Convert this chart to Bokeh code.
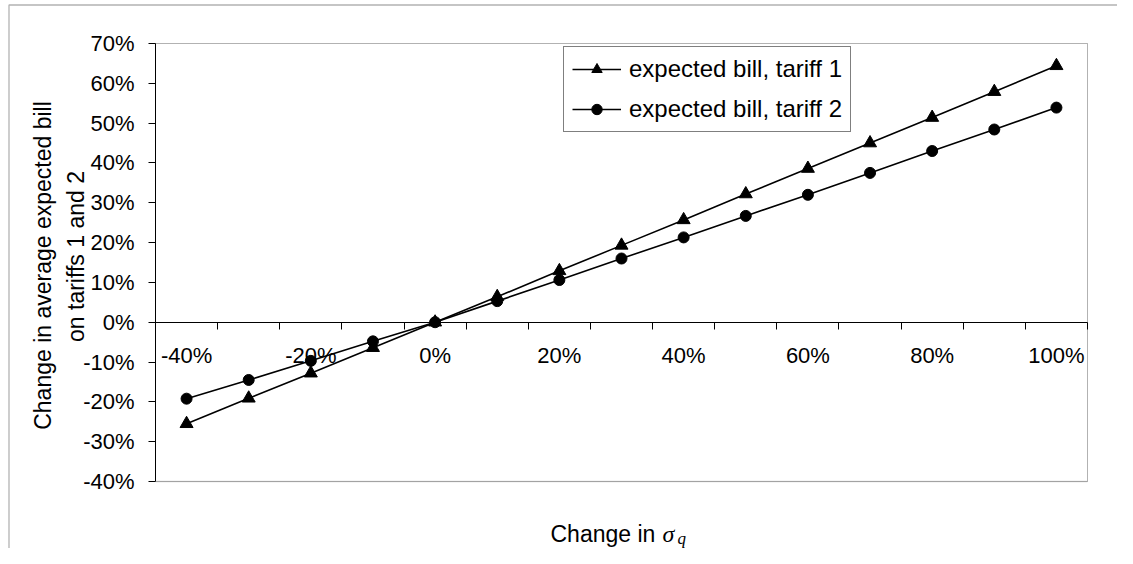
import math
from bokeh.plotting import figure
from bokeh.models import (LinearAxis, FixedTicker, Range1d, Label, Legend, LegendItem,
                          CustomJSTickFormatter, BoxAnnotation)
from bokeh.embed import file_html
from bokeh.resources import INLINE

# ---- data ----
categories = ["-40%", "-30%", "-20%", "-10%", "0%", "10%", "20%", "30%", "40%",
              "50%", "60%", "70%", "80%", "90%", "100%"]
tariff1 = [-25.5, -19.1, -12.8, -6.4, 0.0, 6.4, 12.9, 19.3, 25.7, 32.2, 38.6, 45.0, 51.4, 57.9, 64.4]
tariff2 = [-19.2, -14.5, -9.7, -4.8, 0.0, 5.3, 10.6, 16.0, 21.3, 26.7, 32.0, 37.5, 43.0, 48.4, 53.9]
y_ticks = [-40, -30, -20, -10, 0, 10, 20, 30, 40, 50, 60, 70]
series_names = ["expected bill, tariff 1", "expected bill, tariff 2"]
y_title_lines = ["Change in average expected bill", "on tariffs 1 and 2"]
x_title = "Change in"
x_title_symbol = "σ"
x_title_sub = "q"

FONT = "Liberation Sans"
n = len(categories)
idx = list(range(n))
YMIN, YMAX = y_ticks[0], y_ticks[-1]

# ---- layout (canvas pixels) ----
CW, CH = 1117, 548             # canvas size
FL, FR, FT, FB = 155, 1087, 43, 481   # plot area inside the canvas
SX = (FR - FL) / n             # px per category
SY = (FB - FT) / (YMAX - YMIN)  # px per percentage point


def px_x(px):
    return -0.5 + (px - FL) / SX


def px_y(py):
    return YMAX - (py - FT) / SY


p = figure(frame_width=CW, frame_height=CH, min_border=0,
           min_border_left=0, min_border_right=0, min_border_top=0, min_border_bottom=0,
           x_range=Range1d(px_x(0), px_x(CW)), y_range=Range1d(px_y(CH), px_y(0)),
           output_backend="svg", toolbar_location=None,
           x_axis_location=None, y_axis_location=None)
p.outline_line_color = None
p.background_fill_color = "white"
p.border_fill_color = "white"
p.xgrid.visible = False
p.ygrid.visible = False

# outer chart border (left and top visible)
p.add_layout(BoxAnnotation(left=px_x(8.5), right=px_x(CW + 10), top=px_y(4.5), bottom=px_y(CH + 10),
                           fill_color=None, line_color="black", line_width=1.3))
# plot-area border
p.add_layout(BoxAnnotation(left=-0.5, right=n - 0.5, top=YMAX, bottom=YMIN,
                           fill_color=None, line_color="black", line_width=1))
# grey lower edge of the plot area
p.add_layout(BoxAnnotation(left=-0.5, right=n - 0.5, top=YMIN, bottom=YMIN,
                           fill_color=None, line_color="#808080", line_width=1.5))

# y axis
yax = LinearAxis(ticker=FixedTicker(ticks=y_ticks), fixed_location=-0.5, bounds=(YMIN, YMAX),
                 formatter=CustomJSTickFormatter(code="return tick.toFixed(0) + '%';"))
yax.major_tick_out = 7
yax.major_tick_in = 0
yax.minor_tick_out = 0
yax.minor_tick_in = 0
yax.axis_line_color = "black"
yax.major_tick_line_color = "black"
yax.major_label_text_font = FONT
yax.major_label_text_font_size = "22px"
yax.major_label_text_color = "black"
yax.major_label_standoff = 14
p.add_layout(yax, "left")

# x axis with tick marks between categories, crossing at 0
xax1 = LinearAxis(ticker=FixedTicker(ticks=[i - 0.5 for i in range(n + 1)]),
                  formatter=CustomJSTickFormatter(code="return '';"),
                  fixed_location=0, bounds=(-0.5, n - 0.5))
xax1.major_tick_out = 7
xax1.major_tick_in = 0
xax1.minor_tick_out = 0
xax1.minor_tick_in = 0
xax1.axis_line_color = "black"
xax1.major_tick_line_color = "black"
xax1.major_label_text_font_size = "1px"
p.add_layout(xax1, "below")

# x axis labels on every second category
xax2 = LinearAxis(ticker=FixedTicker(ticks=idx[::2]),
                  formatter=CustomJSTickFormatter(args=dict(cats=categories),
                                                  code="return cats[Math.round(tick)];"),
                  fixed_location=0, bounds=(-0.5, n - 0.5))
xax2.axis_line_color = None
xax2.major_tick_line_color = None
xax2.minor_tick_line_color = None
xax2.major_tick_out = 7
xax2.major_tick_in = 0
xax2.major_label_text_font = FONT
xax2.major_label_text_font_size = "22px"
xax2.major_label_text_color = "black"
xax2.major_label_standoff = 14
p.add_layout(xax2, "below")

# series
l1 = p.line(idx, tariff1, line_color="black", line_width=1.6)
s1 = p.scatter(idx, tariff1, marker="triangle", size=13, fill_color="black", line_color="black")
l2 = p.line(idx, tariff2, line_color="black", line_width=1.6)
s2 = p.scatter(idx, tariff2, marker="circle", size=11, fill_color="black", line_color="black")

legend = Legend(items=[LegendItem(label=series_names[0], renderers=[l1, s1]),
                       LegendItem(label=series_names[1], renderers=[l2, s2])],
                location=(563, CH - 132))
legend.border_line_color = "black"
legend.border_line_width = 1
legend.background_fill_color = "white"
legend.background_fill_alpha = 1
legend.label_text_font = FONT
legend.label_text_font_size = "24px"
legend.label_text_color = "black"
legend.padding = 8
legend.spacing = 12
legend.label_height = 26
legend.glyph_height = 26
legend.glyph_width = 49
legend.label_standoff = 8
legend.margin = 0
p.add_layout(legend)

# axis titles
p.add_layout(Label(x=px_x(42), y=px_y(265), text=y_title_lines[0], angle=math.pi / 2,
                   text_align="center", text_baseline="middle", text_font=FONT,
                   text_font_size="23px", text_color="black"))
p.add_layout(Label(x=px_x(75), y=px_y(256), text=y_title_lines[1], angle=math.pi / 2,
                   text_align="center", text_baseline="middle", text_font=FONT,
                   text_font_size="23px", text_color="black"))
p.add_layout(Label(x=px_x(550), y=px_y(533), text=x_title, text_align="left",
                   text_baseline="alphabetic", text_font=FONT, text_font_size="23px",
                   text_color="black"))
p.add_layout(Label(x=px_x(662), y=px_y(533), text=x_title_symbol, text_align="left",
                   text_baseline="alphabetic", text_font="Liberation Serif",
                   text_font_style="italic", text_font_size="24px", text_color="black"))
p.add_layout(Label(x=px_x(677), y=px_y(538), text=x_title_sub, text_align="left",
                   text_baseline="alphabetic", text_font="Liberation Serif",
                   text_font_style="italic", text_font_size="17px", text_color="black"))

open("out.html", "w").write(file_html(p, INLINE))
